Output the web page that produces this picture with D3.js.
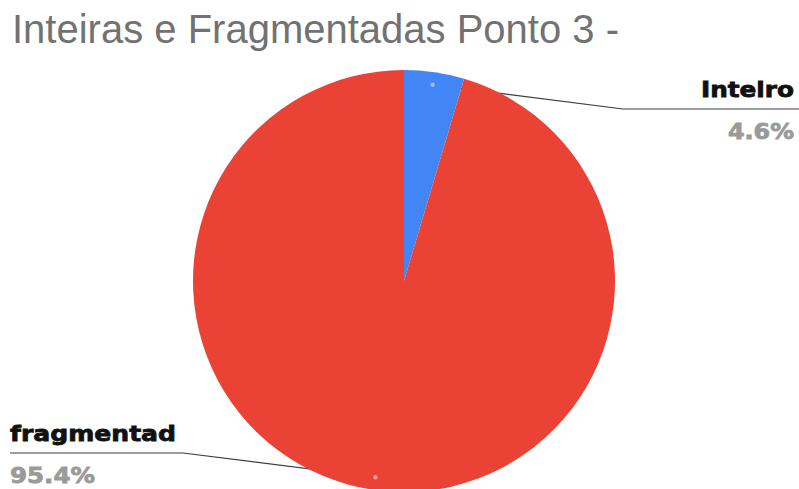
<!DOCTYPE html>
<html>
<head>
<meta charset="utf-8">
<script src="https://cdn.jsdelivr.net/npm/d3@7"></script>
<style>
  html, body { margin: 0; padding: 0; background: #fff; }
  svg { display: block; }
</style>
</head>
<body>
<svg id="chart" width="799" height="489"></svg>
<script>
// Chart data
const title = "Inteiras e Fragmentadas Ponto 3 -";
const categories = ["Inteiro", "fragmentad"];
const values = [4.6, 95.4];
const valueLabels = ["4.6%", "95.4%"];
const colors = ["#4285f4", "#ea4335"];

const W = 799, H = 489;
const cx = 404, cy = 281, R = 211;

const svg = d3.select("#chart");

// Title
svg.append("text")
  .attr("x", 12)
  .attr("y", 43)
  .attr("font-family", "'Liberation Sans', Arial, sans-serif")
  .attr("font-size", 41)
  .attr("fill", "#727272")
  .attr("textLength", 607)
  .attr("lengthAdjust", "spacingAndGlyphs")
  .text(title);

const pie = d3.pie().sort(null).value(d => d)(values);
const arc = d3.arc().innerRadius(0).outerRadius(R);
const dotArc = d3.arc().innerRadius(R * 0.94).outerRadius(R * 0.94);

// Label layout: elbow point, text anchor and side for each slice
const layout = [
  { elbow: [623, 109], end: 799, tx: 794, anchor: "end", nameW: 93, valW: 66 },
  { elbow: [183, 453], end: 10, tx: 10, anchor: "start", nameW: 166, valW: 85 }
];

const g = svg.append("g").attr("transform", `translate(${cx},${cy})`);

// Leader lines (drawn beneath the pie so only the outer part shows)
pie.forEach((d, i) => {
  const [dx, dy] = dotArc.centroid(d);
  const L = layout[i];
  svg.append("polyline")
    .attr("points", [[cx + dx, cy + dy], L.elbow, [L.end, L.elbow[1]]].map(p => p.join(",")).join(" "))
    .attr("fill", "none")
    .attr("stroke", "#3c3c3c")
    .attr("stroke-width", 1.2);
});

g.raise();

g.selectAll("path.slice")
  .data(pie)
  .join("path")
  .attr("class", "slice")
  .attr("d", arc)
  .attr("fill", (d, i) => colors[i]);

// Small marker dots inside each slice
g.selectAll("circle.dot")
  .data(pie)
  .join("circle")
  .attr("class", "dot")
  .attr("cx", d => dotArc.centroid(d)[0])
  .attr("cy", d => dotArc.centroid(d)[1])
  .attr("r", 2.2)
  .attr("fill", "#ffffff")
  .attr("fill-opacity", 0.45);

// Labels
pie.forEach((d, i) => {
  const L = layout[i];
  const y = L.elbow[1];
  svg.append("text")
    .attr("x", L.tx)
    .attr("y", y - 12)
    .attr("text-anchor", L.anchor)
    .attr("font-family", "'DejaVu Sans', sans-serif")
    .attr("font-weight", "bold")
    .attr("font-size", 22)
    .attr("fill", "#111")
    .attr("stroke", "#111")
    .attr("stroke-width", 0.8)
    .attr("textLength", L.nameW)
    .attr("lengthAdjust", "spacingAndGlyphs")
    .text(categories[i]);
  svg.append("text")
    .attr("x", L.tx)
    .attr("y", y + 30)
    .attr("text-anchor", L.anchor)
    .attr("font-family", "'DejaVu Sans', sans-serif")
    .attr("font-weight", "bold")
    .attr("font-size", 21)
    .attr("fill", "#9a9a9a")
    .attr("stroke", "#9a9a9a")
    .attr("stroke-width", 0.8)
    .attr("textLength", L.valW)
    .attr("lengthAdjust", "spacingAndGlyphs")
    .text(valueLabels[i]);
});
</script>
</body>
</html>
